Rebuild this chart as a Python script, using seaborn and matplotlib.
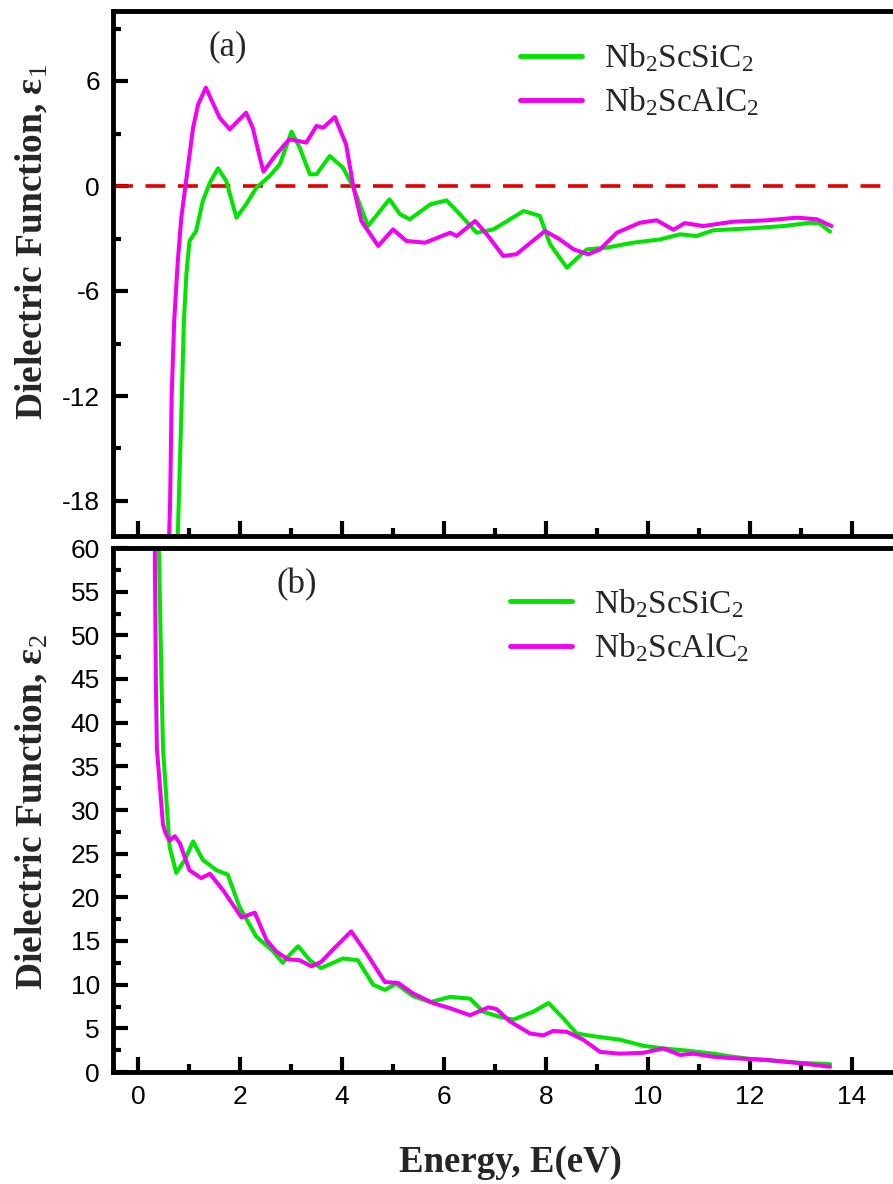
import numpy as np
import pandas as pd
import matplotlib
matplotlib.use("Agg")
import matplotlib.pyplot as plt
from matplotlib.ticker import MultipleLocator
import seaborn as sns

# ---- real part of the dielectric function, eps1 ----
e1_si_E = [0.78, 0.80, 0.86, 0.90, 0.95, 1.01, 1.14, 1.27, 1.41, 1.57, 1.73, 1.93,
           2.12, 2.32, 2.58, 2.78, 3.01, 3.17, 3.37, 3.50, 3.76, 4.02, 4.22, 4.51,
           4.93, 5.14, 5.33, 5.73, 6.05, 6.28, 6.64, 6.97, 7.56, 7.88, 8.08, 8.41,
           8.80, 9.19, 9.71, 10.24, 10.63, 10.95, 11.28, 12.00, 12.65, 13.18, 13.37, 13.57]
e1_si = [-20.0, -18.0, -12.0, -7.7, -5.0, -3.14, -2.57, -0.86, 0.19, 1.01, 0.29, -1.81,
         -1.05, -0.10, 0.57, 1.24, 3.10, 2.19, 0.67, 0.67, 1.71, 1.05, -0.06, -2.29,
         -0.76, -1.62, -1.90, -1.05, -0.82, -1.52, -2.67, -2.48, -1.43, -1.71, -3.33, -4.67,
         -3.62, -3.52, -3.24, -3.05, -2.76, -2.86, -2.53, -2.42, -2.29, -2.10, -2.15, -2.61]

e1_al_E = [0.61, 0.63, 0.66, 0.71, 0.78, 0.85, 0.93, 1.08, 1.18, 1.33, 1.60, 1.80,
           1.99, 2.12, 2.25, 2.39, 2.46, 2.71, 2.97, 3.30, 3.50, 3.63, 3.86, 4.08,
           4.22, 4.38, 4.71, 5.00, 5.26, 5.63, 6.12, 6.25, 6.61, 6.84, 7.16, 7.42,
           7.98, 8.27, 8.54, 8.83, 9.06, 9.39, 9.84, 10.17, 10.50, 10.72, 11.08, 11.67,
           12.33, 12.92, 13.31, 13.60]
e1_al = [-20.0, -18.0, -12.0, -7.7, -4.3, -1.8, 0.0, 3.33, 4.67, 5.62, 3.90, 3.24,
         3.81, 4.19, 3.33, 1.62, 0.82, 1.81, 2.67, 2.48, 3.43, 3.33, 3.94, 2.38,
         0.0, -2.0, -3.43, -2.48, -3.14, -3.24, -2.67, -2.86, -2.00, -2.76, -4.00, -3.90,
         -2.57, -3.05, -3.62, -3.90, -3.62, -2.67, -2.10, -1.96, -2.50, -2.12, -2.29, -2.04,
         -1.96, -1.81, -1.90, -2.29]

# ---- imaginary part of the dielectric function, eps2 ----
e2_si_E = [0.41, 0.46, 0.49, 0.59, 0.62, 0.75, 0.92, 1.08, 1.27, 1.54, 1.76, 1.99,
           2.32, 2.65, 2.84, 2.97, 3.14, 3.37, 3.59, 4.02, 4.31, 4.61, 4.84, 5.06,
           5.39, 5.73, 6.12, 6.51, 6.77, 7.10, 7.36, 7.75, 8.05, 8.34, 8.60, 8.99,
           9.45, 9.91, 10.30, 10.76, 11.28, 11.60, 12.00, 13.00, 13.57]
e2_si = [60.0, 45.0, 37.1, 28.3, 25.8, 22.8, 24.3, 26.4, 24.3, 23.1, 22.6, 18.9,
         15.5, 13.8, 12.5, 13.4, 14.4, 12.8, 11.9, 13.0, 12.8, 10.0, 9.4, 10.1,
         8.7, 8.0, 8.6, 8.4, 6.9, 6.3, 6.0, 6.9, 7.9, 6.15, 4.4, 4.05,
         3.7, 3.0, 2.7, 2.45, 2.1, 1.8, 1.5, 1.05, 0.9]

e2_al_E = [0.33, 0.35, 0.37, 0.49, 0.55, 0.62, 0.72, 0.82, 1.01, 1.24, 1.41, 1.67,
           2.03, 2.29, 2.52, 2.71, 2.94, 3.17, 3.40, 3.59, 3.82, 4.18, 4.48, 4.84,
           5.10, 5.39, 5.78, 6.12, 6.51, 6.87, 7.03, 7.29, 7.69, 7.95, 8.14, 8.41,
           8.73, 9.06, 9.45, 9.91, 10.30, 10.63, 10.89, 11.28, 11.60, 12.30, 13.00, 13.57]
e2_al = [60.0, 45.0, 37.1, 28.3, 27.2, 26.5, 27.0, 26.2, 23.1, 22.2, 22.7, 20.8,
         17.7, 18.25, 15.1, 13.8, 12.9, 12.8, 12.1, 12.6, 14.0, 16.1, 13.6, 10.3,
         10.2, 9.0, 7.9, 7.3, 6.5, 7.4, 7.2, 5.8, 4.4, 4.2, 4.7, 4.6,
         3.7, 2.3, 2.1, 2.2, 2.7, 1.95, 2.1, 1.75, 1.6, 1.4, 1.0, 0.6]

labels = ["Nb$_2$ScSiC$_2$", "Nb$_2$ScAlC$_2$"]
colors = {labels[0]: "#00E400", labels[1]: "#F200F2"}

def long_frame(E_a, v_a, E_b, v_b):
    return pd.concat([
        pd.DataFrame({"E": E_a, "v": v_a, "compound": labels[0]}),
        pd.DataFrame({"E": E_b, "v": v_b, "compound": labels[1]}),
    ], ignore_index=True)

df1 = long_frame(e1_si_E, e1_si, e1_al_E, e1_al)
df2 = long_frame(e2_si_E, e2_si, e2_al_E, e2_al)

sns.set_style("ticks")
plt.rcParams["font.family"] = ["Liberation Sans", "DejaVu Sans"]
plt.rcParams["axes.unicode_minus"] = False
plt.rcParams["mathtext.fontset"] = "custom"
plt.rcParams["mathtext.rm"] = "Liberation Serif"
plt.rcParams["mathtext.it"] = "Liberation Serif:italic"
plt.rcParams["mathtext.bf"] = "Liberation Serif:bold"

W, H = 893, 1184
fig = plt.figure(figsize=(W / 100, H / 100), dpi=100)
x0, xw = 112.5 / W, 800.7 / W
ax1 = fig.add_axes([x0, 1 - 536 / H, xw, 525 / H])
ax2 = fig.add_axes([x0, 1 - 1072 / H, xw, 524 / H])

lw = 2.9
for ax, df in ((ax1, df1), (ax2, df2)):
    sns.lineplot(data=df, x="E", y="v", hue="compound", palette=colors,
                 estimator=None, sort=False, linewidth=lw, ax=ax, legend=True)

ax1.axhline(0, color="#E00000", lw=2.6, dashes=(5.5, 3.5), zorder=1)

serif = "Liberation Serif"
for ax in (ax1, ax2):
    ax.set_xlim(-0.5, 15.2)
    ax.xaxis.set_major_locator(MultipleLocator(2))
    ax.xaxis.set_minor_locator(MultipleLocator(1))
    for s in ax.spines.values():
        s.set_linewidth(3.5)
        s.set_color("black")
    ax.tick_params(which="both", direction="in", width=3.0, labelsize=19,
                   color="black", labelcolor="black", top=False, right=False)
    ax.tick_params(which="major", length=11, pad=9)
    ax.tick_params(which="minor", length=5.5)
    ax.set_xlabel("")
    leg = ax.legend(loc="upper left", frameon=False, handlelength=1.85,
                    handletextpad=0.68, labelspacing=0.34, borderpad=0,
                    borderaxespad=0, prop={"family": serif, "size": 24})
    for h in leg.get_lines():
        h.set_linewidth(3.5)

ax1.set_ylim(-20, 10)
ax1.yaxis.set_major_locator(MultipleLocator(6))
ax1.yaxis.set_minor_locator(MultipleLocator(3))
ax1.tick_params(axis="x", labelbottom=False)
ax1.get_legend().set_bbox_to_anchor((0.509, 0.942))

ax2.set_ylim(0, 60)
ax2.yaxis.set_major_locator(MultipleLocator(5))
ax2.yaxis.set_minor_locator(MultipleLocator(2.5))
ax2.get_legend().set_bbox_to_anchor((0.4965, 0.925))

ax1.set_ylabel("Dielectric Function, ε$_1$", family=serif, weight="bold", fontsize=27)
ax2.set_ylabel("Dielectric Function, ε$_2$", family=serif, weight="bold", fontsize=27)
ax1.yaxis.set_label_coords(-0.078, 0.56)
ax2.yaxis.set_label_coords(-0.078, 0.497)

ax1.text(0.144, 0.931, "(a)", transform=ax1.transAxes, family=serif,
         fontsize=25, ha="center", va="center")
ax2.text(0.2304, 0.929, "(b)", transform=ax2.transAxes, family=serif,
         fontsize=25, ha="center", va="center")

fig.text(510 / W, 1 - 1163 / H, "Energy, E(eV)", family=serif, weight="bold",
         fontsize=26.5, ha="center", va="center")

fig.savefig("out.png", dpi=100)
